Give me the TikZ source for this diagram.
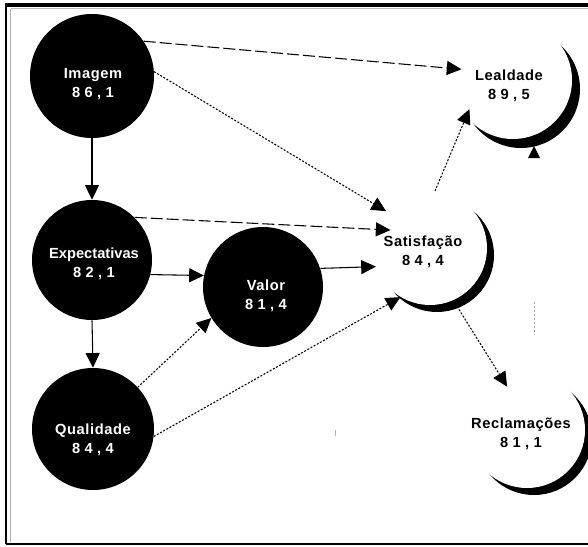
\documentclass[tikz,border=0pt]{standalone}
\usepackage{fontspec}
\setmainfont{Liberation Sans}
\newfontfamily\lblfont[LetterSpace=4]{Liberation Sans}
\newfontfamily\numfont[LetterSpace=30]{Liberation Sans}
\usetikzlibrary{arrows.meta}
\begin{document}
\begin{tikzpicture}[x=0.75pt,y=-0.75pt,
  blackc/.style={circle,fill=black,draw=none,inner sep=0pt},
  whitec/.style={circle,fill=white,draw=none,inner sep=0pt},
  shadowc/.style={circle,fill=black,draw=none,inner sep=0pt},
  lbltext/.style={font=\fontsize{11}{14}\selectfont\bfseries,align=center,inner sep=0pt},
  wlabel/.style={lbltext,text=white},
  blabel/.style={lbltext,text=black},
  arr/.style={-{Triangle[length=11pt,width=10.5pt]},line width=0.8pt},
  dashedarr/.style={arr,dash pattern=on 9pt off 3pt},
  dotarr/.style={arr,dash pattern=on 1.5pt off 1.2pt},
  frameline/.style={line width=1.5pt,black}
]
\useasboundingbox (0,0) rectangle (588,546);
% frame
\draw[line width=3pt] (5,4.5) -- (588,4.5);
\draw[gray!55,line width=1pt] (11,8.5) -- (588,8.5);
\draw[frameline] (6,4) -- (6,544);
\draw[gray!60,line width=1pt] (10.5,9) -- (10.5,542);
\draw[frameline] (6,543.5) -- (588,543.5);

% black circles
\node[blackc,minimum size=93pt]   (img)  at (92,76)  {};
\node[blackc,minimum size=90pt]   (exp)  at (92,260) {};
\node[blackc,minimum size=91.5pt] (qual) at (93,429) {};
\node[blackc,minimum size=90pt]   (val)  at (263,287) {};

% shadowed white circles
\node[shadowc,minimum size=85.5pt] (sats)  at (437,255) {};
\node[whitec,minimum size=85.5pt]  (sat)   at (430,248) {};
\node[shadowc,minimum size=88.5pt] (leals) at (521,89) {};
\node[whitec,minimum size=88.5pt]  (leal)  at (513,80) {};
\node[shadowc,minimum size=87pt]   (recls) at (534,437) {};
\node[whitec,minimum size=87pt]    (recl)  at (527,430) {};
\fill (528,158) -- (540,158) -- (534,146) -- cycle;
\draw[gray!70,line width=0.6pt,dash pattern=on 1.5pt off 1.5pt] (534,302) -- (534,335);
\draw[gray!60,line width=0.6pt] (335,430) -- (335,436);

% labels
\node[wlabel] (imgt)  at (93,84)  {{\lblfont Imagem}\\{\numfont 86,1}};
\node[wlabel] (expt)  at (94,264) {Expectativas\\{\numfont 82,1}};
\node[wlabel] (qualt) at (93,440) {{\lblfont Qualidade}\\{\numfont 84,4}};
\node[wlabel] (valt)  at (266,296) {{\lblfont Valor}\\{\numfont 81,4}};
\node[blabel] (satt)  at (423,252) {{\lblfont Satisfação}\\{\numfont 84,4}};
\node[blabel] (lealt) at (509,86)  {{\lblfont Lealdade}\\{\numfont 89,5}};
\node[blabel] (reclt) at (521,434) {{\lblfont Reclamações}\\{\numfont 81,1}};

% connectors
\draw[arr] (img.south) -- (exp.north);
\draw[arr] (exp.south) -- (qual.north);
\draw[arr] (exp.-14) -- (val.169);
\draw[arr] (val.18.5) -- (sat.199);
\draw[dashedarr,shorten >=-5pt] (img.34.5) -- (leal.169.5);
\draw[dotarr] (img.4.5) -- (sat.140);
\draw[dashedarr,shorten >=-11pt] (exp.45.6) -- (sat.161.3);
\draw[dotarr] (qual.43) -- (val.211.8);
\draw[dotarr] (qual.-7.4) -- (sat.239.3);
\draw[dotarr,shorten >=-6pt] (sat.85) -- (leal.218.4);
\draw[dotarr,shorten >=-8pt] (sat.-66) -- (recl.116);
\end{tikzpicture}
\end{document}
